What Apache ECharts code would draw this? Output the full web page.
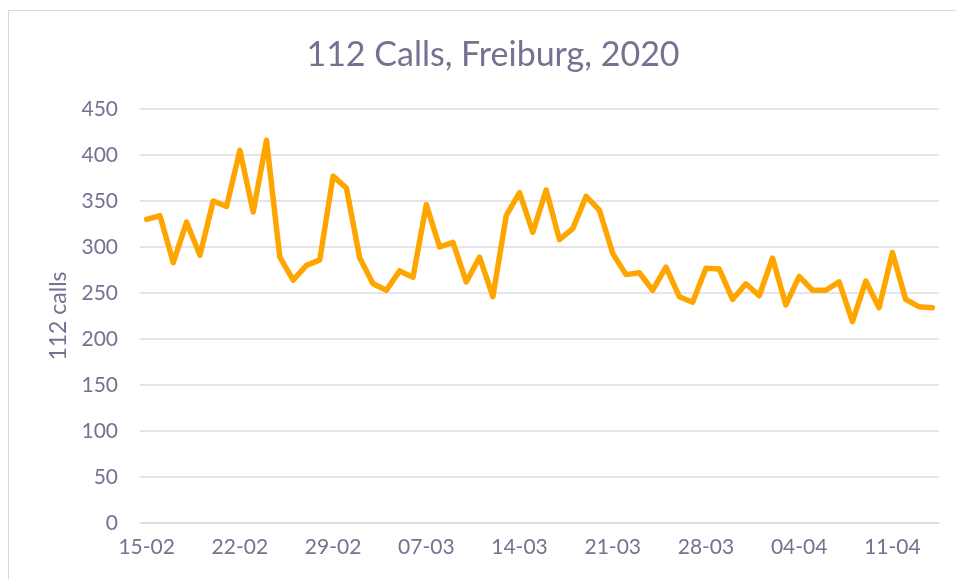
<!DOCTYPE html>
<html>
<head>
<meta charset="utf-8">
<title>112 Calls, Freiburg, 2020</title>
<script src="https://cdn.jsdelivr.net/npm/echarts@6/dist/echarts.min.js"></script>
<style>
    html, body { margin: 0; padding: 0; background: #fff; }
    #frame { position: absolute; left: 8px; top: 10px; width: 960px; height: 580px;
             border-left: 1px solid #d9d9d9; border-top: 1px solid #d9d9d9; }
    #chart { position: absolute; left: 0; top: 0; width: 956px; height: 579px; }
</style>
</head>
<body>
<div id="frame"></div>
<div id="chart"></div>
<script>
// daily dates, 15 Feb - 14 Apr 2020
var days = [
    '15-02', '16-02', '17-02', '18-02', '19-02', '20-02', '21-02',
    '22-02', '23-02', '24-02', '25-02', '26-02', '27-02', '28-02',
    '29-02', '01-03', '02-03', '03-03', '04-03', '05-03', '06-03',
    '07-03', '08-03', '09-03', '10-03', '11-03', '12-03', '13-03',
    '14-03', '15-03', '16-03', '17-03', '18-03', '19-03', '20-03',
    '21-03', '22-03', '23-03', '24-03', '25-03', '26-03', '27-03',
    '28-03', '29-03', '30-03', '31-03', '01-04', '02-04', '03-04',
    '04-04', '05-04', '06-04', '07-04', '08-04', '09-04', '10-04',
    '11-04', '12-04', '13-04', '14-04'
];
// 112 calls per day
var calls = [
    330, 334, 283, 327, 291, 350, 344,
    405, 338, 416, 289, 264, 280, 286,
    377, 364, 288, 260, 253, 274, 267,
    346, 300, 305, 262, 289, 246, 334,
    359, 316, 362, 308, 320, 355, 340,
    293, 270, 272, 253, 278, 246, 240,
    277, 276, 243, 260, 247, 288, 237,
    268, 253, 253, 262, 219, 263, 234,
    294, 243, 235, 234
];
var yTicks = [0, 450, 50]; // min, max, step

var textColor = '#777191';
var gridColor = '#dcdbe3';
var font = 'Lato';

var chart = echarts.init(document.getElementById('chart'));
var option = {
    animation: false,
    title: {
        text: '112 Calls, Freiburg, 2020',
        left: 488,
        top: 33,
        textAlign: 'center',
        textStyle: { color: textColor, fontFamily: font, fontSize: 34, fontWeight: 'normal' }
    },
    grid: { left: 140, right: 17, top: 109, bottom: 56 },
    xAxis: {
        type: 'category',
        data: days,
        boundaryGap: true,
        axisLine: { show: true, lineStyle: { color: gridColor, width: 1.5 } },
        axisTick: { show: false },
        axisLabel: {
            interval: 6,
            margin: 14,
            color: textColor,
            fontFamily: font,
            fontSize: 21
        },
        splitLine: { show: false }
    },
    yAxis: {
        type: 'value',
        min: yTicks[0],
        max: yTicks[1],
        interval: yTicks[2],
        name: '112 calls',
        nameLocation: 'middle',
        nameGap: 69,
        nameTextStyle: { color: textColor, fontFamily: font, fontSize: 23 },
        axisLine: { show: false },
        axisTick: { show: false },
        axisLabel: { margin: 22, color: textColor, fontFamily: font, fontSize: 21 },
        splitLine: { lineStyle: { color: gridColor, width: 1.5 } }
    },
    series: [{
        name: '112 calls',
        type: 'line',
        data: calls,
        symbol: 'none',
        lineStyle: { color: '#ffa500', width: 5.5, join: 'round', cap: 'round' },
        itemStyle: { color: '#ffa500' }
    }]
};
chart.setOption(option);
</script>
</body>
</html>
